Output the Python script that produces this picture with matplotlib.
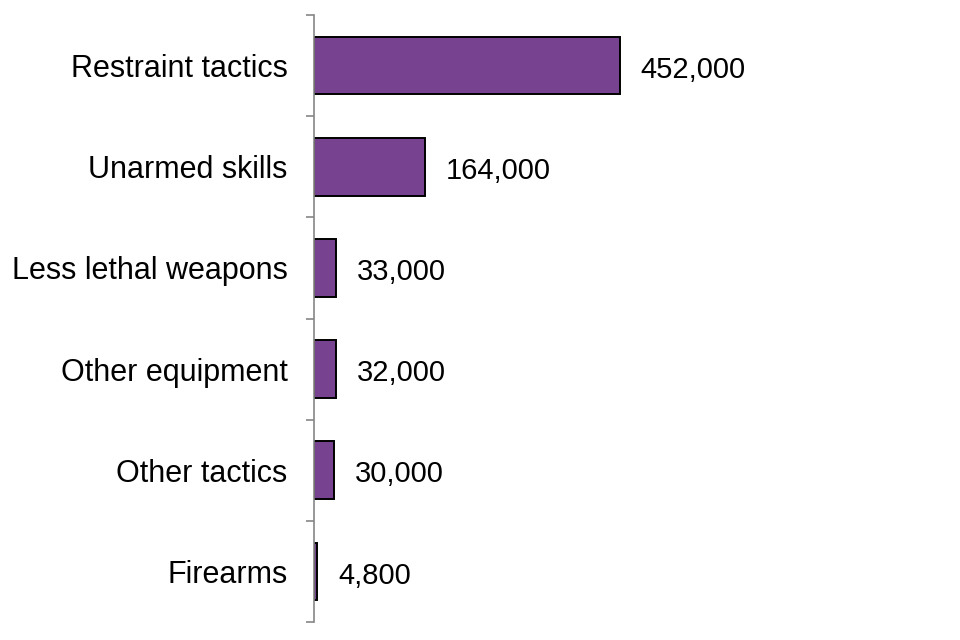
import numpy as np
import matplotlib.pyplot as plt

plt.rcParams['font.family'] = ['Liberation Sans', 'DejaVu Sans']

categories = ['Restraint tactics', 'Unarmed skills', 'Less lethal weapons',
              'Other equipment', 'Other tactics', 'Firearms']
values = [452000, 164000, 33000, 32000, 30000, 4800]
value_labels = ['452,000', '164,000', '33,000', '32,000', '30,000', '4,800']

bar_color = '#77428F'
axis_color = '#868686'

fig = plt.figure(figsize=(9.6, 6.4), dpi=100)
ax = fig.add_axes([314 / 960, 1 - 622 / 640, 0.66, 607 / 640])

y = np.arange(len(categories))
ax.barh(y, values, height=0.57, color=bar_color, edgecolor='black', linewidth=1.4)

for yi, v, lab in zip(y, values, value_labels):
    ax.annotate(lab, (v, yi), xytext=(15, -3), textcoords='offset points',
                ha='left', va='center', fontsize=21, color='black')

ax.set_ylim(len(categories) - 0.5, -0.5)
ax.set_xlim(0, 452000 * 0.66 * 960 / 306)

ax.set_yticks(y)
ax.set_yticklabels(categories, fontsize=22)
ax.tick_params(axis='y', which='major', length=0, pad=19)
ax.set_yticks(np.arange(-0.5, len(categories)), minor=True)
ax.tick_params(axis='y', which='minor', length=6, width=1.2, color=axis_color)

ax.set_xticks([])
for side in ['top', 'right', 'bottom']:
    ax.spines[side].set_visible(False)
ax.spines['left'].set_color(axis_color)
ax.spines['left'].set_linewidth(1.2)

fig.savefig('out.png', dpi=100)
